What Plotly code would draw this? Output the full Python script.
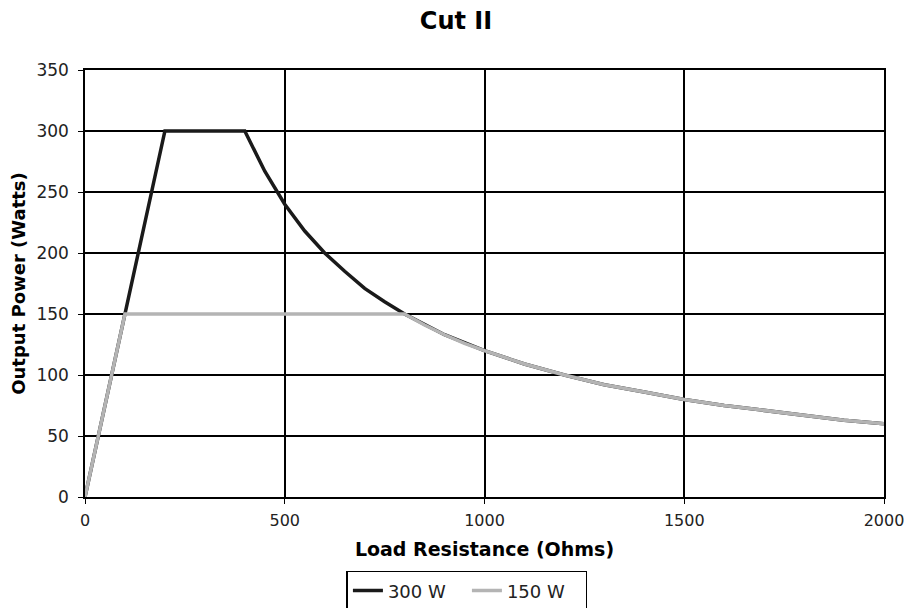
import plotly.graph_objects as go

res_300 = [0, 200, 400, 450, 500, 550, 600, 650, 700, 750, 800, 900, 1000, 1100, 1200, 1300, 1400, 1500, 1600, 1700, 1800, 1900, 2000]
pow_300 = [0, 300, 300, 267, 240, 218, 200, 185, 171, 160, 150, 133, 120, 109, 100, 92, 86, 80, 75, 71, 67, 63, 60]
res_150 = [0, 100, 800, 850, 900, 950, 1000, 1100, 1200, 1300, 1400, 1500, 1600, 1700, 1800, 1900, 2000]
pow_150 = [0, 150, 150, 141, 133, 126, 120, 109, 100, 92, 86, 80, 75, 71, 67, 63, 60]

font = "DejaVu Sans, Verdana, sans-serif"
W, H = 896, 600
fig = go.Figure()
fig.add_trace(go.Scatter(x=res_300, y=pow_300, mode="lines", name="300 W",
                         line=dict(color="#1a1a1a", width=3.5)))
fig.add_trace(go.Scatter(x=res_150, y=pow_150, mode="lines", name="150 W",
                         line=dict(color="#b4b4b4", width=3.5)))

fig.update_layout(
    width=W, height=H,
    paper_bgcolor="white", plot_bgcolor="white",
    margin=dict(l=77, r=20, t=62, b=111),
    title=dict(text="<b>Cut II</b>", x=0.5, xanchor="center", y=1 - 13 / H, yanchor="middle",
               yref="container", font=dict(family=font, size=24, color="black")),
    font=dict(family=font, size=16, color="#222222"),
    showlegend=True,
    legend=dict(orientation="h", x=0.478, xanchor="center", y=0.062, yanchor="top",
                yref="container",
                bordercolor="black", borderwidth=1.5, entrywidth=74,
                font=dict(size=18, color="#222222")),
)
fig.update_xaxes(range=[0, 2000], tickvals=[0, 500, 1000, 1500, 2000],
                 showgrid=True, gridcolor="black", gridwidth=1.5,
                 showline=True, linecolor="black", linewidth=1.5, mirror=True,
                 ticks="outside", ticklen=5, tickcolor="black",
                 ticklabelstandoff=3, ticklabeloverflow="allow",
                 zeroline=False, automargin=False,
                 title=dict(text="<b>Load Resistance (Ohms)</b>", font=dict(size=19, color="black"), standoff=14))
fig.update_yaxes(range=[0, 350], tickvals=[0, 50, 100, 150, 200, 250, 300, 350],
                 showgrid=True, gridcolor="black", gridwidth=1.5,
                 showline=True, linecolor="black", linewidth=1.5, mirror=True,
                 ticks="outside", ticklen=5, tickcolor="black",
                 ticklabelstandoff=6, tickfont=dict(size=17),
                 zeroline=False, automargin=False,
                 title=dict(text="<b>Output Power (Watts)</b>", font=dict(size=18, color="black"), standoff=8))

fig.write_html("out.html")
